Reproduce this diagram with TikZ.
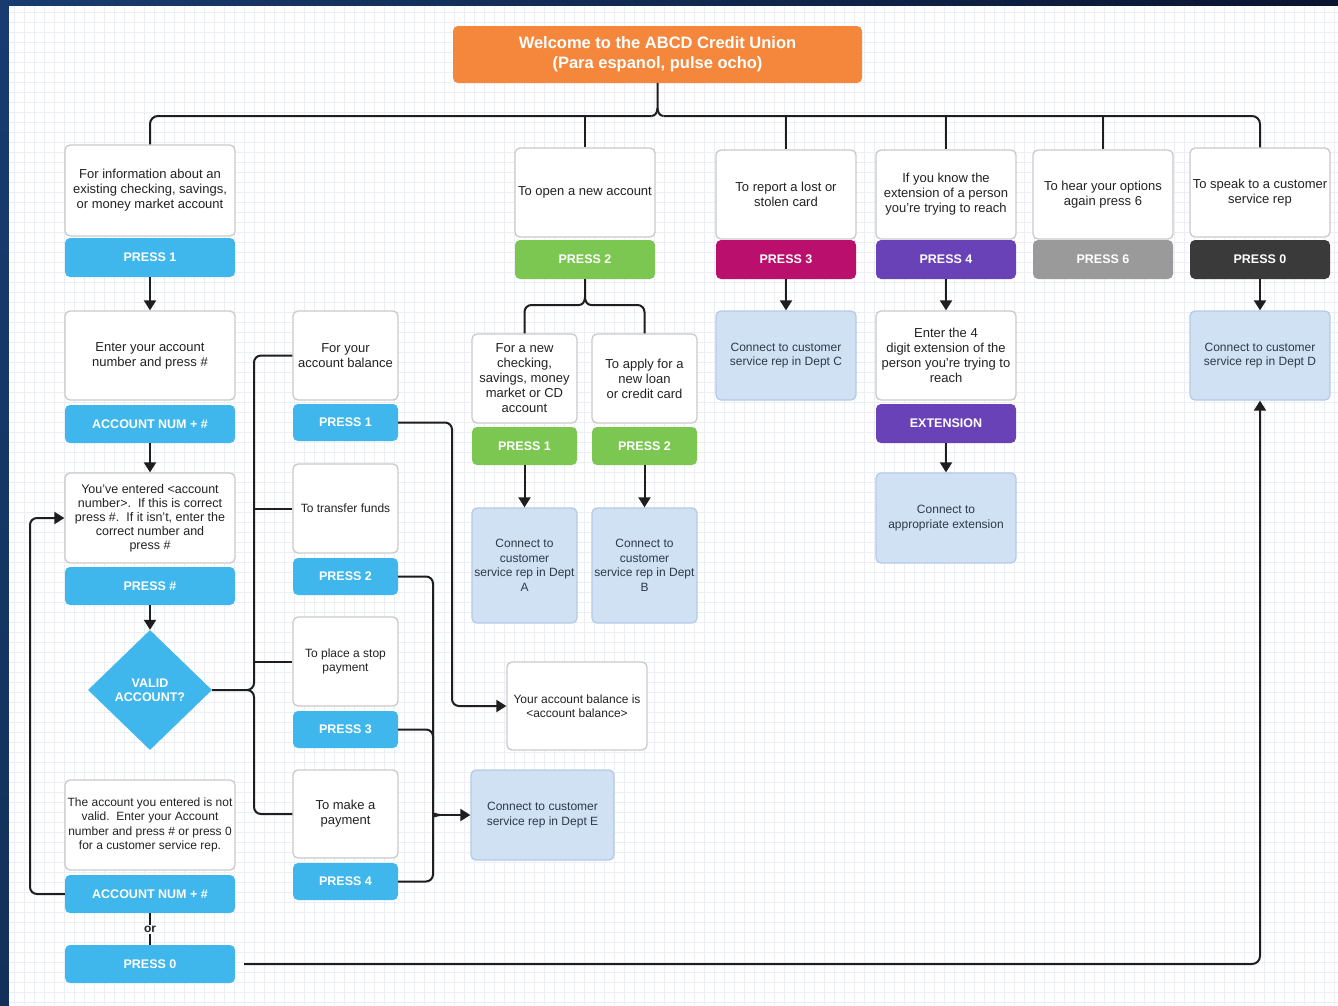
\documentclass[tikz,border=0pt]{standalone}
\usepackage{fontspec}
\setmainfont{Liberation Sans}
\usetikzlibrary{arrows.meta,shapes.geometric}
\definecolor{navyA}{HTML}{183C70}
\definecolor{navyB}{HTML}{0A1530}
\definecolor{gridc}{HTML}{ECEEF5}
\definecolor{wbord}{HTML}{CACACA}
\definecolor{lbord}{HTML}{B4CAE6}
\definecolor{lbfill}{HTML}{D0E1F4}
\definecolor{txt}{HTML}{222222}
\definecolor{txtb}{HTML}{2E3A48}
\definecolor{lnc}{HTML}{1E1E1E}
\definecolor{orangeH}{HTML}{F5873C}
\definecolor{blueP}{HTML}{40B7EC}
\definecolor{greenP}{HTML}{7CC652}
\definecolor{magP}{HTML}{BA0F6C}
\definecolor{purP}{HTML}{6A42B8}
\definecolor{grayP}{HTML}{9A9A9A}
\definecolor{darkP}{HTML}{3A3A3A}
\tikzset{
 every node/.style={font=\fontsize{13}{15}\selectfont},
 smallt/.style={font=\fontsize{12}{14.5}\selectfont},
 wb/.style={draw=wbord, line width=1.3pt, fill=white, rounded corners=5pt, align=center, inner sep=1pt, text=txt},
 lb/.style={draw=lbord, line width=1.3pt, fill=lbfill, rounded corners=5pt, align=center, inner sep=1pt, text=txtb, font=\fontsize{12}{14.5}\selectfont},
 pb/.style={fill=#1, draw=none, rounded corners=5pt, text=white, inner sep=1pt, font=\bfseries\fontsize{12.5}{14}\selectfont},
 sz/.style 2 args={minimum width=#1, minimum height=#2},
 conn/.style={draw=lnc, line width=2pt},
 arr/.style={conn, -{Triangle[width=12pt,length=10pt]}},
}
\begin{document}
\begin{tikzpicture}[x=1pt,y=-1pt]
\useasboundingbox (0,0) rectangle (1338,1005);
% background frame
\fill[navyB] (0,0) rectangle (1338,1005);
\shade[left color=navyA, right color=navyB] (0,0) rectangle (1338,6);
\shade[top color=navyA, bottom color=navyA!80!black] (0,6) rectangle (9,1005);
\fill[white] (9,6) rectangle (1338,1005);
\foreach \gx in {14,24,...,1334} \draw[gridc, line width=0.5pt] (\gx,6) -- (\gx,1005);
\foreach \gy in {12,22,...,1002} \draw[gridc, line width=0.5pt] (9,\gy) -- (1338,\gy);

% header
\node[pb=orangeH, sz={409}{57}, font=\bfseries\fontsize{16.5}{20}\selectfont, align=center] (hdr) at (657.5,54.5) {Welcome to the ABCD Credit Union\\(Para espanol, pulse ocho)};

% column 1
\node[wb, sz={170}{91}] (q1) at (150,190.5) {For information about an\\existing checking, savings,\\or money market account};
\node[pb=blueP, sz={170}{39}] (k1) at (150,257.5) {PRESS 1};
\node[wb, sz={170}{89}] (e1) at (150,355.5) {Enter your account\\number and press \#};
\node[pb=blueP, sz={170}{38}] (an1) at (150,424) {ACCOUNT NUM + \#};
\node[wb, sz={170}{90}, font=\fontsize{12.5}{14}\selectfont] (cf) at (150,518) {You've entered \textless account\\number\textgreater.\ \ If this is correct\\press \#.\ \ If it isn't, enter the\\correct number and\\press \#};
\node[pb=blueP, sz={170}{38}] (kh) at (150,586) {PRESS \#};
\node[diamond, fill=blueP, minimum width=124pt, minimum height=120pt, inner sep=0pt, text=white, align=center, font=\bfseries\fontsize{12.5}{14}\selectfont] (dia) at (150,690) {VALID\\ACCOUNT?};
\node[wb, smallt, sz={170}{90}] (inv) at (150,825) {The account you entered is not\\valid.\ \ Enter your Account\\number and press \# or press 0\\for a customer service rep.};
\node[pb=blueP, sz={170}{38}] (an2) at (150,894) {ACCOUNT NUM + \#};
\node[inner sep=1pt, text=txt, font=\bfseries\fontsize{12}{14}\selectfont] (or) at (150,929) {or};
\node[pb=blueP, sz={170}{38}] (pz) at (150,964) {PRESS 0};

% sub options column
\node[wb, sz={105}{89}] (s1) at (345.5,355.5) {For your\\account balance};
\node[pb=blueP, sz={105}{37}] (p1) at (345.5,422.5) {PRESS 1};
\node[wb, smallt, sz={105}{89}] (s2) at (345.5,508.5) {To transfer funds};
\node[pb=blueP, sz={105}{37}] (p2) at (345.5,576.5) {PRESS 2};
\node[wb, smallt, sz={105}{89}] (s3) at (345.5,661.5) {To place a stop\\payment};
\node[pb=blueP, sz={105}{37}] (p3) at (345.5,729.5) {PRESS 3};
\node[wb, sz={105}{88}] (s4) at (345.5,814) {To make a\\payment};
\node[pb=blueP, sz={105}{37}] (p4) at (345.5,881.5) {PRESS 4};

\node[wb, smallt, sz={140}{88}] (brs) at (577,706) {Your account balance is\\\textless account balance\textgreater};
\node[lb, sz={143}{90}] (de) at (542.5,815) {Connect to customer\\service rep in Dept E};

% column new account
\node[wb, sz={140}{89}] (q2) at (585,192.5) {To open a new account};
\node[pb=greenP, sz={140}{39}] (k2) at (585,259.5) {PRESS 2};
\node[wb, sz={105}{89}] (n1) at (524.5,378.5) {For a new\\checking,\\savings, money\\market or CD\\account};
\node[pb=greenP, sz={105}{38}] (g1) at (524.5,446) {PRESS 1};
\node[lb, sz={105}{115}] (da) at (524.5,565.5) {Connect to\\customer\\service rep in Dept\\A};
\node[wb, sz={105}{89}] (n2) at (644.5,378.5) {To apply for a\\new loan\\or credit card};
\node[pb=greenP, sz={105}{38}] (g2) at (644.5,446) {PRESS 2};
\node[lb, sz={105}{115}] (db) at (644.5,565.5) {Connect to\\customer\\service rep in Dept\\B};

% column lost card
\node[wb, sz={140}{89}] (q3) at (786,194.5) {To report a lost or\\stolen card};
\node[pb=magP, sz={140}{39}] (k3) at (786,259.5) {PRESS 3};
\node[lb, sz={140}{89}] (dc) at (786,355.5) {Connect to customer\\service rep in Dept C};

% column extension
\node[wb, sz={140}{89}] (q4) at (946,194.5) {If you know the\\extension of a person\\you're trying to reach};
\node[pb=purP, sz={140}{39}] (k4) at (946,259.5) {PRESS 4};
\node[wb, sz={140}{89}] (e4) at (946,355.5) {Enter the 4\\digit extension of the\\person you're trying to\\reach};
\node[pb=purP, sz={140}{39}] (ex) at (946,423.5) {EXTENSION};
\node[lb, sz={140}{90}] (dx) at (946,518) {Connect to\\appropriate extension};

% column options again
\node[wb, sz={140}{89}] (q5) at (1103,194.5) {To hear your options\\again press 6};
\node[pb=grayP, sz={140}{39}] (k5) at (1103,259.5) {PRESS 6};

% column customer rep
\node[wb, sz={140}{89}] (q6) at (1260,192.5) {To speak to a customer\\service rep};
\node[pb=darkP, sz={140}{39}] (k6) at (1260,259.5) {PRESS 0};
\node[lb, sz={140}{89}] (dd) at (1260,355.5) {Connect to customer\\service rep in Dept D};

% top tree
\coordinate (hm) at (657.5,108);
\coordinate (hl) at (651.5,116);
\coordinate (hr) at (663.5,116);
\draw[conn] (hdr.south) -- (hm) to[out=-90,in=0] (hl);
\draw[conn] (hm) to[out=-90,in=180] (hr);
\draw[conn, rounded corners=8] (q1.north) |- (hl);
\draw[conn, rounded corners=8] (q6.north) |- (hr);
\draw[conn] (q2.north |- hl) -- (q2.north);
\draw[conn] (q3.north |- hl) -- (q3.north);
\draw[conn] (q4.north |- hl) -- (q4.north);
\draw[conn] (q5.north |- hl) -- (q5.north);

% column 1 arrows
\draw[arr] (k1.south) -- (e1.north);
\draw[arr] (an1.south) -- (cf.north);
\draw[arr] (kh.south) -- (dia.north);
\draw[conn, line width=1.5pt] (an2.south) -- (or.north);
\draw[conn, line width=1.5pt] (or.south) -- (pz.north);
\coordinate (lx) at (30,700);
\draw[arr, rounded corners=7] (an2.west) -| (lx) |- (cf.west);
\draw[arr, rounded corners=8] ([xshift=9pt]pz.east) -| (dd.south);

% diamond to sub options
\coordinate (dj) at (247,690);
\coordinate (dju) at (254,683);
\coordinate (djd) at (254,697);
\draw[conn] (dia.east) -- (dj) to[out=0,in=-90] (dju);
\draw[conn] (dj) to[out=0,in=90] (djd);
\draw[conn, rounded corners=7] (dju) |- (s1.west);
\draw[conn, rounded corners=7] (djd) |- (s4.west);
\draw[conn] (s2.west -| dju) -- (s2.west);
\draw[conn] (s3.west -| dju) -- (s3.west);

% sub options outputs
\coordinate (rx1) at (452,600);
\draw[arr, rounded corners=7] (p1.east) -| (rx1) |- (brs.west);
\coordinate (mj) at (440,815);
\coordinate (mu) at (433,808);
\coordinate (md) at (433,822);
\draw[conn, rounded corners=7] (p2.east) -| (mu) to[out=-90,in=180] (mj);
\draw[conn, rounded corners=7] (p4.east) -| (md) to[out=90,in=180] (mj);
\draw[conn, rounded corners=7] (p3.east) -| (433,790);
\draw[arr] (mj) -- (de.west);

% new account brace
\coordinate (bm) at (585,297);
\coordinate (bl) at (579,305);
\coordinate (bri) at (591,305);
\draw[conn] (k2.south) -- (bm) to[out=-90,in=0] (bl);
\draw[conn] (bm) to[out=-90,in=180] (bri);
\draw[conn, rounded corners=7] (bl) -| (n1.north);
\draw[conn, rounded corners=7] (bri) -| (n2.north);
\draw[arr] (g1.south) -- (da.north);
\draw[arr] (g2.south) -- (db.north);

% other columns
\draw[arr] (k3.south) -- (dc.north);
\draw[arr] (k4.south) -- (e4.north);
\draw[arr] (ex.south) -- (dx.north);
\draw[arr] (k6.south) -- (dd.north);
\end{tikzpicture}
\end{document}
